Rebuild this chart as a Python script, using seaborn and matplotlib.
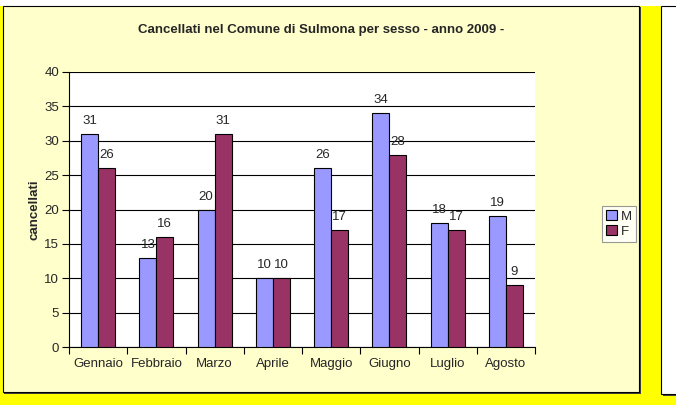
import matplotlib
matplotlib.use("Agg")
import matplotlib.pyplot as plt
import seaborn as sns
import pandas as pd
from matplotlib.patches import Rectangle
from matplotlib.ticker import FixedLocator

months = ["Gennaio", "Febbraio", "Marzo", "Aprile", "Maggio", "Giugno", "Luglio", "Agosto"]
male = [31, 13, 20, 10, 26, 34, 18, 19]
female = [26, 16, 31, 10, 17, 28, 17, 9]
series = ["M", "F"]
title = "Cancellati nel Comune di Sulmona per sesso - anno 2009 -"
ylabel = "cancellati"

df = pd.DataFrame({
    "mese": months * 2,
    "sesso": ["M"] * len(months) + ["F"] * len(months),
    "valore": male + female,
})

sns.set_style("white")
plt.rcParams["font.family"] = ["Liberation Sans", "DejaVu Sans"]

W, H = 676, 405
fig = plt.figure(figsize=(W / 100, H / 100), dpi=100, facecolor="#FFFF00")

def fr(x0, y0, x1, y1, **kw):
    fig.patches.append(Rectangle((x0 / W, 1 - y1 / H), (x1 - x0) / W, (y1 - y0) / H,
                                 transform=fig.transFigure, **kw))

fr(0, 0, W, 6, facecolor="white", edgecolor="none", zorder=-5)
fr(4, 7, 641, 394, facecolor="#404040", edgecolor="none", zorder=-5)
fr(3, 6, 639, 392, facecolor="#FFFFCC", edgecolor="black", linewidth=0.8, zorder=-4)
fr(663, 7, W + 5, 396, facecolor="#404040", edgecolor="none", zorder=-5)
fr(661, 6, W + 5, 394, facecolor="white", edgecolor="black", linewidth=0.8, zorder=-4)

ax = fig.add_axes([69 / W, 1 - 347 / H, 466 / W, 275 / H])
ax.set_zorder(5)
ax.set_facecolor("white")

palette = {"M": "#9999FF", "F": "#993366"}
sns.barplot(data=df, x="mese", y="valore", hue="sesso", hue_order=series,
            order=months, palette=palette, width=0.58, edgecolor="black",
            linewidth=0.8, saturation=1, ax=ax, zorder=3)

for cont in ax.containers:
    ax.bar_label(cont, padding=5, fontsize=9.5)

ax.set_ylim(0, 40)
ax.set_xlim(-0.5, len(months) - 0.5)
ax.set_yticks(range(0, 41, 5))
ax.yaxis.grid(True, color="black", linewidth=0.8, zorder=0)
ax.set_axisbelow(True)
ax.tick_params(axis="y", direction="out", length=5, width=0.8, color="black",
               labelsize=9.5, pad=2, left=True)
ax.tick_params(axis="x", which="major", length=0, labelsize=9.5, pad=8)
ax.xaxis.set_minor_locator(FixedLocator([i - 0.5 for i in range(len(months) + 1)]))
ax.tick_params(axis="x", which="minor", direction="out", length=5, width=0.8,
               color="black", bottom=True)
for s in ["top", "right"]:
    ax.spines[s].set_visible(False)
for s in ["left", "bottom"]:
    ax.spines[s].set_color("black")
    ax.spines[s].set_linewidth(0.8)
ax.set_xlabel("")
ax.set_ylabel(ylabel, fontsize=9.5, fontweight="bold", labelpad=3)

fig.text((3 + 639) / 2 / W, 1 - 30 / H, title, ha="center", va="center",
         fontsize=9.5, fontweight="bold")

leg = ax.legend(loc="center left", bbox_to_anchor=(602 / W, 1 - 224 / H),
                bbox_transform=fig.transFigure, fontsize=9.5, frameon=True,
                fancybox=False, handlelength=0.8, handleheight=0.8,
                handletextpad=0.3, borderpad=0.3, labelspacing=0.2,
                borderaxespad=0)
leg.get_frame().set_edgecolor("#808080")
leg.get_frame().set_linewidth(0.8)
leg.get_frame().set_facecolor("white")
leg.set_title(None)

fig.savefig("out.png", dpi=100, facecolor=fig.get_facecolor())
